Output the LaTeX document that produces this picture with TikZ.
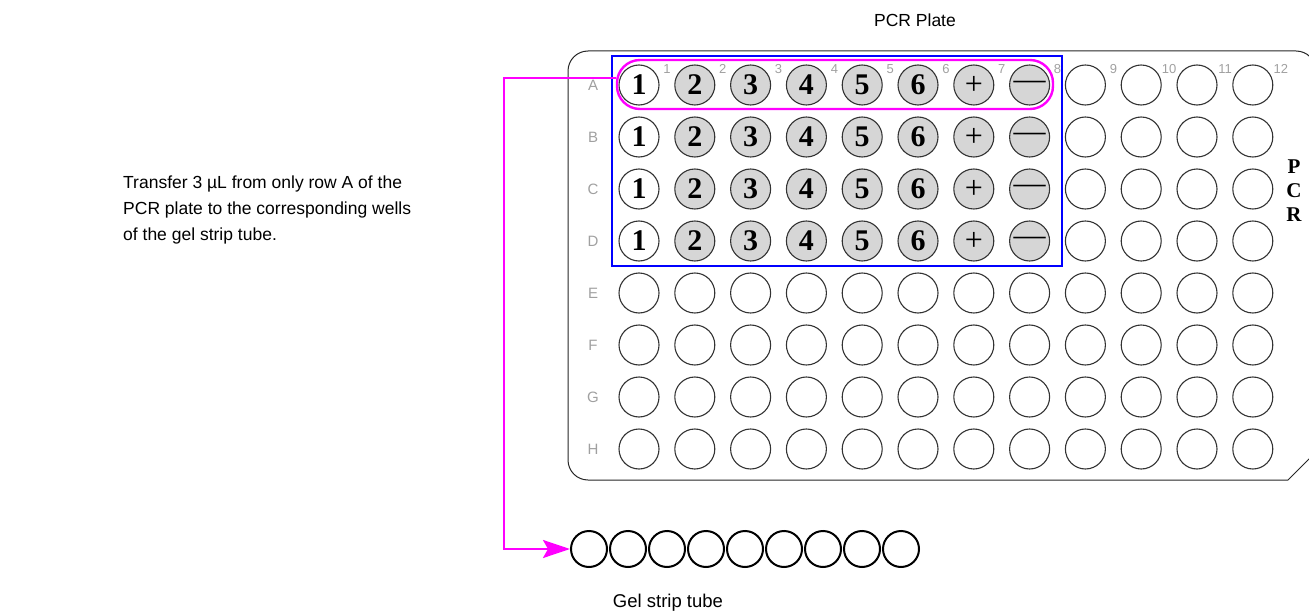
\documentclass[tikz,border=0pt]{standalone}
\usepackage{fontspec}
\setmainfont{Liberation Sans}
\newfontfamily\platefont{Liberation Serif}
\usetikzlibrary{arrows.meta}
\definecolor{wellgray}{HTML}{D6D6D6}
\definecolor{lblgray}{HTML}{A0A0A0}
\definecolor{xfermag}{HTML}{FF00FF}
\newcommand{\numfont}{\platefont\bfseries\fontsize{30}{30}\selectfont}
\newcommand{\signfont}{\platefont\fontsize{32}{32}\selectfont}
\tikzset{well/.style={circle, draw=black!80, line width=1.1pt, minimum size=40pt, inner sep=0pt},
 sample/.style={well, fill=wellgray},
 tube/.style={circle, draw=black, line width=2pt, minimum size=36pt, inner sep=0pt},
 rowlbl/.style={text=lblgray, font=\fontsize{15}{15}\selectfont},
 collbl/.style={text=lblgray, font=\fontsize{13}{13}\selectfont},
 caption/.style={font=\fontsize{17.5}{26}\selectfont, inner sep=0pt},
 }

\begin{document}
\begin{tikzpicture}[x=1pt, y=-1pt]
        \useasboundingbox (0,0) rectangle (1309,615);
        % plate outline
        \draw[line width=1pt, black!85] (1316,452) -- (1288,480) [rounded corners=20pt] -- (568,480) -- (568,51) -- (1316,51) -- (1316,452);

        % row and column labels
        \foreach \r [count=\i] in {A,B,C,D,E,F,G,H} {
            \node[rowlbl] (l\r) at (593, {85+52*(\i-1)}) {\r};
        }
        \foreach \c in {1,...,12} {
            \node[collbl] (n\c) at ({667+55.8*(\c-1)}, 69) {\c};
        }

        % wells A-D
        \foreach \r [count=\i] in {A,B,C,D} {
            \node[well, fill=white, font=\numfont] (w\r1) at (639, {85+52*(\i-1)}) {1};
            \foreach \c in {2,...,6}
                \node[sample, font=\numfont] (w\r\c) at ({639+55.8*(\c-1)}, {85+52*(\i-1)}) {\c};
            \node[sample, font=\signfont] (w\r7) at ({639+55.8*6}, {85+52*(\i-1)}) {+};
            \node[sample, font=\signfont] (w\r8) at ({639+55.8*7}, {85+52*(\i-1)}) {—};
            \foreach \c in {9,...,12}
                \node[well] (w\r\c) at ({639+55.8*(\c-1)}, {85+52*(\i-1)}) {};
        }
        % wells E-H
        \foreach \r [count=\i from 5] in {E,F,G,H} {
            \foreach \c in {1,...,12}
                \node[well] (w\r\c) at ({639+55.8*(\c-1)}, {85+52*(\i-1)}) {};
        }

        \node[font=\platefont\bfseries\fontsize{21}{24}\selectfont, align=center, inner sep=0pt] (side) at (1294, 191) {P\\C\\R};

        % selection
        \draw[blue, line width=2.6pt] (612,56) rectangle (1062,266);
        \node[draw=xfermag, line width=2.4pt, rounded corners=23pt, minimum width=436pt, minimum height=49pt] (rowA) at (835, 84.5) {};

        % gel strip
        \foreach \k in {1,...,9} {
            \node[tube] (t\k) at ({589+39*(\k-1)}, 549) {};
        }
        \draw[xfermag, line width=2.4pt, -{Stealth[length=27pt, width=18pt, inset=5pt]}] ([yshift=6.5pt]rowA.west) -- ++(-112,0) |- (t1.west);

        \node[caption] (platecap) at (915, 20) {PCR Plate};
        \node[caption, font=\fontsize{18.5}{26}\selectfont] (tubecap) at (668, 603) {Gel strip tube};
        \node[caption, anchor=west, align=left] (note) at (123, 210) {Transfer 3 µL from only row A of the\\PCR plate to the corresponding wells\\of the gel strip tube.};
\end{tikzpicture}
\end{document}
